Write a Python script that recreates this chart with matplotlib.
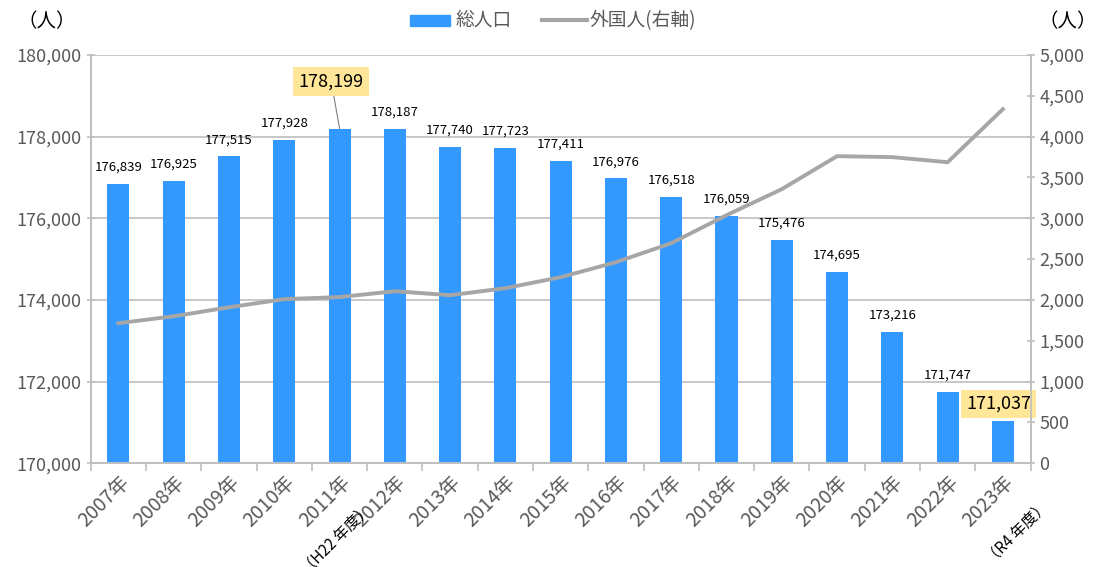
import matplotlib.pyplot as plt
from matplotlib.ticker import FuncFormatter, MultipleLocator

plt.rcParams['font.family'] = ['Noto Sans CJK JP', 'DejaVu Sans']

years = ['2007年', '2008年', '2009年', '2010年', '2011年', '2012年', '2013年', '2014年',
         '2015年', '2016年', '2017年', '2018年', '2019年', '2020年', '2021年', '2022年', '2023年']
total = [176839, 176925, 177515, 177928, 178199, 178187, 177740, 177723,
         177411, 176976, 176518, 176059, 175476, 174695, 173216, 171747, 171037]
foreign = [1715, 1800, 1910, 2010, 2035, 2107, 2058, 2144,
           2279, 2462, 2695, 3038, 3357, 3761, 3749, 3687, 4337]
highlight = [4, 16]

BLUE = '#3399FF'
GRAY = '#A6A6A6'
TICK = '#595959'

fig = plt.figure(figsize=(10.94, 5.67), dpi=100)
ax = fig.add_axes([0.083, 0.183, 0.859, 0.72])
ax2 = ax.twinx()

x = list(range(len(years)))
ax.bar(x, total, width=0.4, color=BLUE, zorder=2)
ax.set_ylim(170000, 180000)
ax.set_xlim(-0.5, len(years) - 0.5)
ax.yaxis.set_major_locator(MultipleLocator(2000))
ax.yaxis.set_major_formatter(FuncFormatter(lambda v, p: f'{int(v):,}'))
ax.grid(axis='y', color='#BFBFBF', linewidth=1.2, zorder=0)
ax.set_axisbelow(True)

ax2.plot(x, foreign, color=GRAY, linewidth=2.8, zorder=3)
ax2.set_ylim(0, 5000)
ax2.yaxis.set_major_locator(MultipleLocator(500))
ax2.yaxis.set_major_formatter(FuncFormatter(lambda v, p: f'{int(v):,}'))

for a in (ax, ax2):
    for s in a.spines.values():
        s.set_color('#BFBFBF')
        s.set_linewidth(1.2)
    a.spines['top'].set_visible(False)
    a.tick_params(colors=TICK, labelsize=13, length=6, width=1.2)
    a.tick_params(axis='y', color='#BFBFBF', direction='inout')
    a.tick_params(axis='x', color='#BFBFBF')

ax.set_xticks(x)
ax.set_xticklabels(years, rotation=45, ha='right', rotation_mode='anchor', fontsize=14)
ax.tick_params(axis='x', length=0, pad=6)
# category boundary ticks
ax.set_xticks([i - 0.5 for i in range(len(years) + 1)], minor=True)
ax.tick_params(axis='x', which='minor', length=6, color='#BFBFBF', width=1.2)

for i, v in enumerate(total):
    if i in highlight:
        continue
    ax.text(i, v + 250, f'{v:,}', ha='center', va='bottom', fontsize=9.5, color='black')

# highlighted labels
ax.annotate(f'{total[4]:,}', xy=(4, total[4]), xytext=(3.85, 179350),
            ha='center', va='center', fontsize=13,
            bbox=dict(boxstyle='square,pad=0.3', fc='#FFE699', ec='none'),
            arrowprops=dict(arrowstyle='-', color='#7F7F7F', lw=0.8, shrinkA=0, shrinkB=0))
ax.text(15.92, 171450, f'{total[16]:,}', ha='center', va='center', fontsize=13,
        bbox=dict(boxstyle='square,pad=0.3', fc='#FFE699', ec='none'))

# fiscal year notes
ax.text(3.95, 168150, '（H22 年度）', rotation=45, ha='center', va='center',
        fontsize=11, color='black')
ax.text(16.25, 168300, '（R4 年度）', rotation=45, ha='center', va='center',
        fontsize=11, color='black')

fig.text(0.043, 0.962, '（人）', ha='center', va='center', fontsize=14, color='black')
fig.text(0.976, 0.962, '（人）', ha='center', va='center', fontsize=14, color='black')

# legend
fig.patches.append(plt.Rectangle((0.375, 0.955), 0.036, 0.018, transform=fig.transFigure,
                                 color=BLUE, figure=fig))
fig.text(0.416, 0.964, '総人口', ha='left', va='center', fontsize=13.5, color=TICK)
fig.lines.append(plt.Line2D([0.495, 0.537], [0.964, 0.964], transform=fig.transFigure,
                            color=GRAY, linewidth=3, figure=fig))
fig.text(0.539, 0.964, '外国人(右軸)', ha='left', va='center', fontsize=13.5, color=TICK)

fig.savefig('out.png', dpi=100)
